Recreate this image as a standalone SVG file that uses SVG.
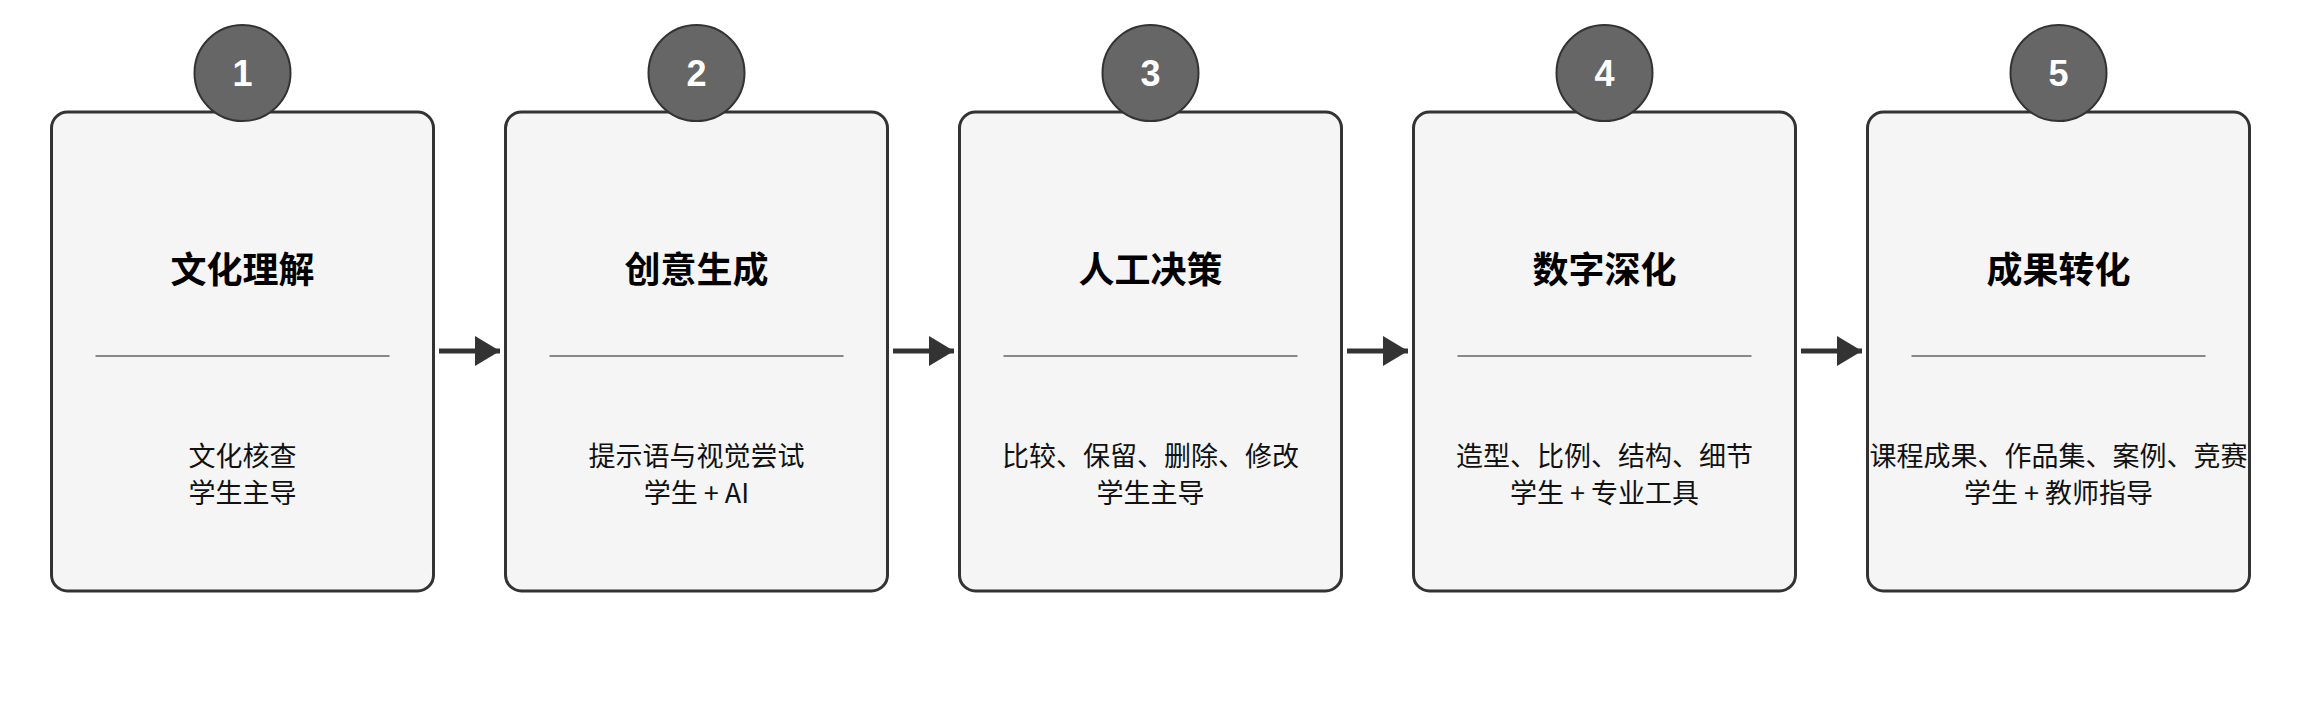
<svg xmlns="http://www.w3.org/2000/svg" width="2300" height="720" viewBox="0 0 2300 720">
<style>
.box{fill:#f5f5f5;stroke:#333;stroke-width:3}
.num{fill:#666;stroke:#333;stroke-width:2}
.nt{fill:#fff;font:bold 36px "Liberation Sans","Noto Sans CJK SC",sans-serif;text-anchor:middle}
.tt{fill:#000;font:bold 36px "Noto Sans CJK SC",sans-serif;text-anchor:middle}
.bt{fill:#111;font:27px "Noto Sans CJK SC",sans-serif;text-anchor:middle}
.div{stroke:#888;stroke-width:2}
.con{stroke:#333;stroke-width:5;fill:none}
</style>
<defs><marker id="ah" markerWidth="6" markerHeight="6" refX="5" refY="3" orient="auto" markerUnits="strokeWidth"><path d="M0,0 L5,3 L0,6 z" fill="#333"/></marker></defs>
<rect width="2300" height="720" fill="#fff"/>
<g id="connectors">
<line class="con" x1="439" y1="351" x2="500" y2="351" marker-end="url(#ah)"/>
<line class="con" x1="893" y1="351" x2="954" y2="351" marker-end="url(#ah)"/>
<line class="con" x1="1347" y1="351" x2="1408" y2="351" marker-end="url(#ah)"/>
<line class="con" x1="1801" y1="351" x2="1862" y2="351" marker-end="url(#ah)"/>
</g>
<g id="node1"><rect class="box" x="51.5" y="112" width="382" height="479" rx="16"/><circle class="num" cx="242.5" cy="73" r="48"/><text class="nt" x="242.5" y="86">1</text><text class="tt" x="242.5" y="283">文化理解</text><line class="div" x1="95.5" y1="356" x2="389.5" y2="356"/><text class="bt" x="242.5" y="466">文化核查</text><text class="bt" x="242.5" y="503">学生主导</text></g>
<g id="node2"><rect class="box" x="505.5" y="112" width="382" height="479" rx="16"/><circle class="num" cx="696.5" cy="73" r="48"/><text class="nt" x="696.5" y="86">2</text><text class="tt" x="696.5" y="283">创意生成</text><line class="div" x1="549.5" y1="356" x2="843.5" y2="356"/><text class="bt" x="696.5" y="466">提示语与视觉尝试</text><text class="bt" x="696.5" y="503">学生 + AI</text></g>
<g id="node3"><rect class="box" x="959.5" y="112" width="382" height="479" rx="16"/><circle class="num" cx="1150.5" cy="73" r="48"/><text class="nt" x="1150.5" y="86">3</text><text class="tt" x="1150.5" y="283">人工决策</text><line class="div" x1="1003.5" y1="356" x2="1297.5" y2="356"/><text class="bt" x="1150.5" y="466">比较、保留、删除、修改</text><text class="bt" x="1150.5" y="503">学生主导</text></g>
<g id="node4"><rect class="box" x="1413.5" y="112" width="382" height="479" rx="16"/><circle class="num" cx="1604.5" cy="73" r="48"/><text class="nt" x="1604.5" y="86">4</text><text class="tt" x="1604.5" y="283">数字深化</text><line class="div" x1="1457.5" y1="356" x2="1751.5" y2="356"/><text class="bt" x="1604.5" y="466">造型、比例、结构、细节</text><text class="bt" x="1604.5" y="503">学生 + 专业工具</text></g>
<g id="node5"><rect class="box" x="1867.5" y="112" width="382" height="479" rx="16"/><circle class="num" cx="2058.5" cy="73" r="48"/><text class="nt" x="2058.5" y="86">5</text><text class="tt" x="2058.5" y="283">成果转化</text><line class="div" x1="1911.5" y1="356" x2="2205.5" y2="356"/><text class="bt" x="2058.5" y="466">课程成果、作品集、案例、竞赛</text><text class="bt" x="2058.5" y="503">学生 + 教师指导</text></g>
</svg>
